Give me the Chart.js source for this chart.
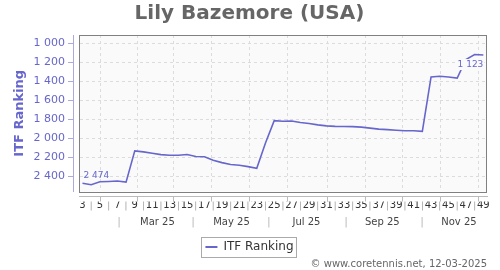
<!DOCTYPE html>
<html>
<head>
<meta charset="utf-8">
<script src="https://cdn.jsdelivr.net/npm/chart.js@4.4.1/dist/chart.umd.min.js"></script>
<style>
html,body{margin:0;padding:0;background:#ffffff;}
#wrap{width:500px;height:270px;position:relative;}
</style>
</head>
<body>
<div id="wrap"><canvas id="c" width="500" height="270"></canvas></div>
<script>
// ---- data ----
const weeks = [3,4,5,6,7,8,9,10,11,12,13,14,15,16,17,18,19,20,21,22,23,24,25,26,27,28,29,30,31,32,33,34,35,36,37,38,39,40,41,42,43,44,45,46,47,48,49];
const itfRanking = [2474,2489,2458,2455,2450,2461,2132,2143,2158,2172,2178,2178,2170,2192,2194,2231,2256,2275,2284,2298,2316,2050,1814,1821,1817,1833,1844,1858,1869,1874,1876,1877,1882,1893,1903,1908,1915,1920,1920,1927,1354,1347,1354,1365,1170,1118,1123];
const weekTickValues = [3,4,5,6,7,8,9,10,11,12,13,14,15,16,17,18,19,20,21,22,23,24,25,26,27,28,29,30,31,32,33,34,35,36,37,38,39,40,41,42,43,44,45,46,47,48,49];
const monthGridWeeks = [5.12,9.26,13.5,17.86,22.22,26.58,31.06,35.53,39.78,44.14,48.5];
const monthLabels = ['Mar 25','May 25','Jul 25','Sep 25','Nov 25'];
const monthLabelWeeks = [11.6,20.1,28.7,37.4,46.2];
const monthSeparatorWeeks = [7.2,15.69,24.4,33.25,41.97];
const yTickValues = [1000,1200,1400,1600,1800,2000,2200,2400];
const seriesName = 'ITF Ranking';
const titleText = 'Lily Bazemore (USA)';
const creditText = '\u00A9 www.coretennis.net, 12-03-2025';

// ---- helpers ----
const FONT = "'DejaVu Sans', Verdana, sans-serif";
const LINE = '#6666cc';
const X_MIN = 2.6, X_MAX = 49.42;
const Y_MIN = 912, Y_MAX = 2560;
const fmt = v => String(Math.round(v)).replace(/\B(?=(\d{3})+(?!\d))/g, ' ');

const monthTicks = [];
monthSeparatorWeeks.forEach(v => monthTicks.push({value: v, text: '|', sep: true}));
monthLabelWeeks.forEach((v, i) => monthTicks.push({value: v, text: monthLabels[i], sep: false}));
monthTicks.sort((a, b) => a.value - b.value);
const isSep = c => c.index !== undefined && monthTicks[c.index] && monthTicks[c.index].sep;

const framePlugin = {
  id: 'frame',
  beforeDraw(chart) {
    const {ctx, chartArea: a} = chart;
    ctx.save();
    ctx.fillStyle = '#fafafa';
    ctx.fillRect(a.left, a.top, a.right - a.left, a.bottom - a.top);
    ctx.restore();
  },
  afterDatasetsDraw(chart) {
    const {ctx, chartArea: a} = chart;
    ctx.save();
    ctx.strokeStyle = '#808080';
    ctx.lineWidth = 1;
    ctx.strokeRect(Math.round(a.left) + 0.5, Math.round(a.top) + 0.5, Math.round(a.right - a.left) - 1, Math.round(a.bottom - a.top));
    // end-point labels
    const meta = chart.getDatasetMeta(0);
    const ds = chart.data.datasets[0].data;
    const first = meta.data[0], last = meta.data[meta.data.length - 1];
    ctx.font = '9px ' + FONT;
    ctx.fillStyle = LINE;
    ctx.textBaseline = 'middle';
    ctx.textAlign = 'left';
    ctx.fillText(fmt(ds[0].y), first.x + 1, first.y - 8);
    const t = fmt(ds[ds.length - 1].y);
    const w = ctx.measureText(t).width;
    ctx.fillStyle = '#fafafa';
    ctx.fillRect(last.x - w - 1, last.y + 4, w + 2, 11);
    ctx.fillStyle = LINE;
    ctx.textAlign = 'right';
    ctx.fillText(t, last.x, last.y + 9.5);
    ctx.restore();
  },
  afterDraw(chart) {
    const lg = chart.legend;
    if (!lg || !lg.legendHitBoxes || !lg.legendHitBoxes.length) return;
    const h = lg.legendHitBoxes[0];
    const {ctx} = chart;
    ctx.save();
    ctx.strokeStyle = '#aaaaaa';
    ctx.lineWidth = 1;
    ctx.strokeRect(Math.round(h.left) - 4 + 0.5, Math.round(h.top) - 4 + 0.5, Math.round(h.width) + 7, Math.round(h.height) + 8);
    ctx.restore();
  }
};

new Chart(document.getElementById('c'), {
  type: 'line',
  data: {
    datasets: [{
      label: seriesName,
      data: weeks.map((w, i) => ({x: w, y: itfRanking[i]})),
      borderColor: LINE,
      backgroundColor: LINE,
      borderWidth: 1.6,
      pointRadius: 0,
      tension: 0,
      fill: false
    }]
  },
  options: {
    responsive: false,
    devicePixelRatio: 1,
    animation: false,
    layout: {padding: {left: 12, right: 13, top: 0, bottom: 0}},
    font: {family: FONT},
    plugins: {
      tooltip: {enabled: false},
      title: {display: true, text: titleText, color: '#666666', font: {family: FONT, size: 20, weight: 'bold'}, padding: {top: 2, bottom: 9}},
      subtitle: {display: true, text: creditText, position: 'bottom', align: 'end', color: '#666666', font: {family: FONT, size: 10}, padding: {top: -5, bottom: 0}},
      legend: {position: 'bottom', labels: {color: '#333333', font: {family: FONT, size: 12}, boxWidth: 12, boxHeight: 2, padding: 1,
        generateLabels: chart => Chart.defaults.plugins.legend.labels.generateLabels(chart).map(l => Object.assign(l, {lineWidth: 0, fillStyle: LINE}))}}
    },
    scales: {
      x: {type: 'linear', position: 'bottom', weight: 0, min: X_MIN, max: X_MAX,
          ticks: {display: false}, grid: {display: false}, border: {display: false},
          afterFit: s => { s.height = 5; }},
      xg: {type: 'linear', position: 'bottom', weight: 1, min: X_MIN, max: X_MAX,
          afterBuildTicks: s => { s.ticks = monthGridWeeks.map(v => ({value: v})); },
          ticks: {display: false},
          grid: {color: '#dcdcdc', tickColor: '#bbbbbb', tickLength: 5, tickBorderDash: []},
          border: {display: true, color: '#bbbbbb', dash: [3, 3]},
          afterFit: s => { s.height = 5; }},
      xw: {type: 'linear', position: 'bottom', weight: 2, min: X_MIN, max: X_MAX,
          afterBuildTicks: s => { s.ticks = weekTickValues.map(v => ({value: v})); },
          ticks: {autoSkip: false, maxRotation: 0, minRotation: 0, padding: -2, font: {family: FONT, size: 10},
                  color: c => (c.tick && c.tick.value % 2 === 0) ? '#aaaaaa' : '#333333',
                  callback: v => v % 2 === 0 ? '|' : String(v)},
          grid: {display: false, drawTicks: false}, border: {display: false},
          afterFit: s => { s.height = 10; }},
      xm: {type: 'linear', position: 'bottom', weight: 3, min: X_MIN, max: X_MAX,
          afterBuildTicks: s => { s.ticks = monthTicks.map(t => ({value: t.value})); },
          ticks: {autoSkip: false, maxRotation: 0, minRotation: 0, padding: 4.5,
                  font: c => ({family: FONT, size: isSep(c) ? 11 : 10}),
                  color: c => isSep(c) ? '#bbbbbb' : '#444444',
                  callback: (v, i) => monthTicks[i].text},
          grid: {display: false, drawTicks: false}, border: {display: false},
          afterFit: s => { s.height = 28.5; }},
      ys: {type: 'linear', position: 'left', weight: 0, reverse: true, min: Y_MIN, max: Y_MAX,
          ticks: {display: false}, grid: {display: false}, border: {display: false},
          afterFit: s => { s.width = 6; }},
      y: {type: 'linear', position: 'left', weight: 1, reverse: true, min: Y_MIN, max: Y_MAX,
          afterBuildTicks: s => { s.ticks = yTickValues.map(v => ({value: v})); },
          ticks: {color: LINE, font: {family: FONT, size: 11}, padding: 3, callback: v => fmt(v)},
          grid: {color: '#dcdcdc', tickColor: '#aaaadd', tickLength: 5, tickBorderDash: []},
          border: {display: true, color: '#aaaadd', dash: [3, 3]},
          title: {display: true, text: seriesName, color: LINE, font: {family: FONT, size: 13, weight: 'bold'}, padding: {top: 0, bottom: 0}},
          afterFit: s => { s.width = 61; }}
    }
  },
  plugins: [framePlugin]
});
</script>
</body>
</html>
